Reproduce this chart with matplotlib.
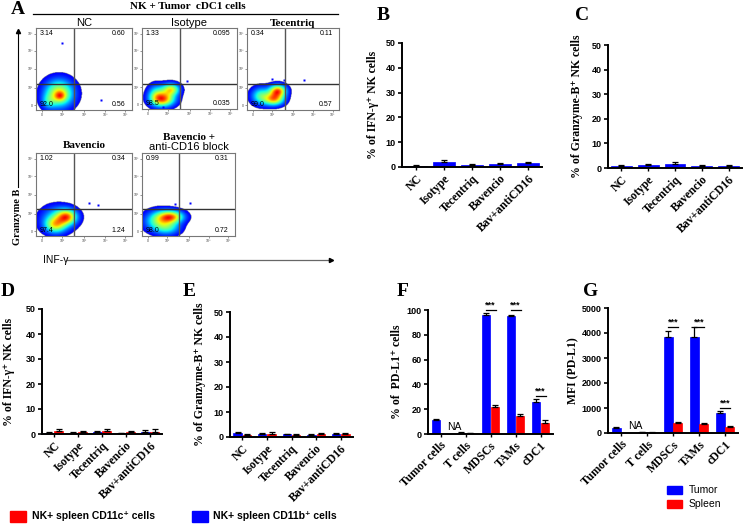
import matplotlib
matplotlib.use('Agg')
import matplotlib.pyplot as plt
import numpy as np
from matplotlib.patches import Rectangle
from matplotlib.lines import Line2D

W, H = 745, 526
SERIF = ['Liberation Serif', 'DejaVu Serif']
SANS = ['Liberation Sans', 'DejaVu Sans']
BLUE = '#0000ff'
RED = '#ff0000'

# ---- panel A: flow plots ----
flow_titles = ['NC', 'Isotype', 'Tecentriq', 'Bavencio', 'Bavencio +\nanti-CD16 block']
flow_quadrants = [  # upper-left, upper-right, lower-left, lower-right
    ['3.14', '0.60', '92.0', '0.56'],
    ['1.33', '0.095', '98.5', '0.035'],
    ['0.34', '0.11', '99.0', '0.57'],
    ['1.02', '0.34', '97.4', '1.24'],
    ['0.99', '0.31', '98.0', '0.72'],
]
flow_gates = [(0.40, 0.32), (0.40, 0.31), (0.41, 0.32), (0.40, 0.33), (0.40, 0.33)]
# density blobs: (x, y, sx, sy, weight) in axes fractions
flow_blobs = [
    [(0.24, 0.20, 0.10, 0.11, 1.0), (0.25, 0.17, 0.04, 0.04, 0.5), (0.13, 0.10, 0.05, 0.06, 0.3)],
    [(0.22, 0.12, 0.08, 0.06, 1.0), (0.30, 0.24, 0.06, 0.05, 0.8), (0.15, 0.18, 0.06, 0.08, 0.45)],
    [(0.33, 0.23, 0.06, 0.05, 1.0), (0.29, 0.13, 0.07, 0.05, 0.85), (0.15, 0.17, 0.07, 0.07, 0.5)],
    [(0.32, 0.23, 0.07, 0.06, 1.0), (0.20, 0.13, 0.07, 0.06, 0.65), (0.22, 0.20, 0.11, 0.10, 0.5)],
    [(0.31, 0.23, 0.09, 0.05, 1.0), (0.18, 0.18, 0.10, 0.08, 0.6), (0.28, 0.10, 0.09, 0.06, 0.4)],
]
flow_dots = [
    [(0.27, 0.82), (0.68, 0.12)],
    [(0.47, 0.34), (0.22, 0.02)],
    [(0.62, 0.36), (0.27, 0.38), (0.40, 0.36)],
    [(0.55, 0.40), (0.65, 0.37)],
    [(0.52, 0.40), (0.47, 0.30), (0.36, 0.38)],
]
flow_boxes = [(36, 28, 132, 110), (142, 28, 237, 109), (247, 28, 339, 110),
              (36, 153, 132, 236), (142, 153, 235, 236)]
flow_tick_pos = [0.06, 0.27, 0.50, 0.72, 0.93]
flow_tick_lab = ['0', '10²', '10³', '10⁴', '10⁵']

# ---- B, C: NK + tumor cDC1 ----
treatments = ['NC', 'Isotype', 'Tecentriq', 'Bavencio', 'Bav+antiCD16']
ifng_tumor = [0.6, 2.0, 0.8, 1.2, 1.5]
ifng_tumor_err = [0.3, 0.8, 0.3, 0.6, 0.7]
gzmb_tumor = [0.8, 1.1, 1.7, 1.0, 0.7]
gzmb_tumor_err = [0.3, 0.7, 0.6, 0.4, 0.4]

# ---- D, E: NK + spleen cells ----
ifng_cd11b = [0.5, 0.5, 0.8, 0.4, 0.7]
ifng_cd11b_err = [0.2, 0.2, 0.3, 0.2, 0.9]
ifng_cd11c = [1.3, 0.8, 1.2, 0.8, 1.0]
ifng_cd11c_err = [0.6, 0.5, 1.0, 0.4, 0.9]
gzmb_cd11b = [1.5, 1.2, 1.1, 0.9, 1.2]
gzmb_cd11b_err = [0.5, 0.5, 0.3, 0.2, 0.3]
gzmb_cd11c = [1.0, 1.3, 1.0, 1.3, 1.3]
gzmb_cd11c_err = [0.3, 0.6, 0.3, 0.5, 0.4]

# ---- F, G: PD-L1 ----
cell_types = ['Tumor cells', 'T cells', 'MDSCs', 'TAMs', 'cDC1']
pdl1_pct_tumor = [11.0, 1.2, 96.0, 95.0, 25.5]
pdl1_pct_tumor_err = [1.5, 0.3, 1.2, 0.7, 3.0]
pdl1_pct_spleen = [np.nan, 0.5, 21.5, 14.5, 9.0]
pdl1_pct_spleen_err = [0, 0.3, 2.0, 2.0, 2.0]
pdl1_mfi_tumor = [200, 40, 3850, 3850, 800]
pdl1_mfi_tumor_err = [30, 10, 220, 380, 80]
pdl1_mfi_spleen = [np.nan, 20, 400, 380, 240]
pdl1_mfi_spleen_err = [0, 5, 30, 20, 40]
pct_sig = [(2, 100), (3, 100), (4, 30.5)]
mfi_sig = [(2, 4250), (3, 4250), (4, 1010)]

plt.rcParams['font.family'] = SANS
fig = plt.figure(figsize=(W / 100, H / 100), dpi=100)


def px_axes(x0, y0, x1, y1):
    return fig.add_axes([x0 / W, 1 - y1 / H, (x1 - x0) / W, (y1 - y0) / H])


def ftext(x, y, s, **kw):
    fig.text(x / W, 1 - y / H, s, **kw)


# flow plots
xx, yy = np.meshgrid(np.linspace(0, 1, 200), np.linspace(0, 1, 200))
for i in range(5):
    ax = px_axes(*flow_boxes[i])
    dens = np.zeros_like(xx)
    for cx, cy, sx, sy, w in flow_blobs[i]:
        dens += w * np.exp(-((xx - cx) ** 2 / (2 * sx ** 2) + (yy - cy) ** 2 / (2 * sy ** 2)))
    dens = dens / dens.max()
    ax.imshow(np.ma.masked_less(dens, 0.04), origin='lower', extent=[0, 1, 0, 1],
              cmap='jet', vmin=-0.1, vmax=1.12, interpolation='bilinear', aspect='auto')
    for dx, dy in flow_dots[i]:
        ax.plot(dx, dy, 's', ms=1.5, color=BLUE, mec='none')
    gx, gy = flow_gates[i]
    ax.axvline(gx, color='#555555', lw=1.0)
    ax.axhline(gy, color='#333333', lw=1.0)
    q = flow_quadrants[i]
    ax.text(0.04, 0.93, q[0], fontsize=5, va='center', ha='left')
    ax.text(0.93, 0.93, q[1], fontsize=5, va='center', ha='right')
    ax.text(0.04, 0.07, q[2], fontsize=5, va='center', ha='left')
    ax.text(0.93, 0.07, q[3], fontsize=5, va='center', ha='right')
    ax.set_xlim(0, 1)
    ax.set_ylim(0, 1)
    ax.set_xticks(flow_tick_pos)
    ax.set_yticks(flow_tick_pos)
    ax.set_xticklabels(flow_tick_lab, fontsize=2.5)
    ax.set_yticklabels(flow_tick_lab, fontsize=2.5)
    ax.tick_params(length=1.5, width=0.4, pad=0.5, colors='#444444')
    for sp in ax.spines.values():
        sp.set_color('#777777')
        sp.set_linewidth(0.8)

ftext(84, 23, 'NC', fontsize=8, ha='center', va='center')
ftext(189, 23, 'Isotype', fontsize=8, ha='center', va='center')
ftext(293, 23, 'Tecentriq', fontsize=8, ha='center', va='center', family=SERIF, weight='bold')
ftext(84, 146, 'Bavencio', fontsize=8, ha='center', va='center', family=SERIF, weight='bold')
ftext(189, 137, 'Bavencio +', fontsize=8, ha='center', va='center', family=SERIF, weight='bold')
ftext(189, 147, 'anti-CD16 block', fontsize=8, ha='center', va='center')

ftext(18, 9, 'A', fontsize=14, ha='center', va='center', family=SERIF, weight='bold')
ftext(188, 6.5, 'NK + Tumor  cDC1 cells', fontsize=8, ha='center', va='center', family=SERIF, weight='bold')
fig.add_artist(Line2D([33 / W, 338 / W], [1 - 13.5 / H, 1 - 13.5 / H], color='black', lw=0.9))
fig.add_artist(Line2D([18 / W, 18 / W], [1 - 187 / H, 1 - 32 / H], color='black', lw=0.8))
fig.add_artist(Line2D([18 / W], [1 - 31 / H], marker='^', ms=3, color='black'))
ftext(18, 217, 'Granzyme B', fontsize=7.5, rotation=90, ha='center', va='center',
      family=SERIF, weight='bold')
ftext(56, 260, 'INF-γ', fontsize=7.5, ha='center', va='center')
fig.add_artist(Line2D([67 / W, 330 / W], [1 - 260.5 / H, 1 - 260.5 / H], color='#666666', lw=0.9))
fig.add_artist(Line2D([331 / W], [1 - 260.5 / H], marker='>', ms=3, color='black'))


def bar_panel(rect, cats, series, errs, colors, width, offsets, ylim, yticks, xfs, ylabel, ylab_x):
    ax = px_axes(*rect)
    x = np.arange(len(cats))
    for vals, err, col, off in zip(series, errs, colors, offsets):
        vals = np.array(vals, dtype=float)
        ok = ~np.isnan(vals)
        ax.bar(x[ok] + off, vals[ok], width, color=col, edgecolor=col, lw=0.5, zorder=2)
        ax.errorbar(x[ok] + off, vals[ok], yerr=[np.zeros(ok.sum()), np.array(err)[ok]],
                    fmt='none', ecolor='black', elinewidth=0.9, capsize=2.2, capthick=0.9, zorder=3)
    ax.set_xlim(-0.5, len(cats) - 0.5)
    ax.set_ylim(*ylim)
    ax.set_yticks(yticks)
    ax.set_yticklabels([str(t) for t in yticks], fontsize=6.5, weight='bold')
    ax.set_xticks(x)
    ax.set_xticklabels(cats, rotation=45, ha='right', rotation_mode='anchor',
                       fontsize=xfs, family=SERIF, weight='bold')
    ax.tick_params(axis='y', length=3, width=1.2, pad=1.5)
    ax.tick_params(axis='x', length=2, width=1.0, pad=2)
    for s in ['top', 'right']:
        ax.spines[s].set_visible(False)
    for s in ['left', 'bottom']:
        ax.spines[s].set_linewidth(1.4)
    ycen = (rect[1] + rect[3]) / 2
    ftext(ylab_x, ycen, ylabel, rotation=90, ha='center', va='center',
          fontsize=8.5, family=SERIF, weight='bold')
    return ax


bar_panel((402, 43, 542, 167), treatments, [ifng_tumor], [ifng_tumor_err], [BLUE], 0.78, [0],
          (0, 50), [0, 10, 20, 30, 40, 50], 8.5, '% of IFN-γ⁺ NK cells', 373)
bar_panel((608, 45, 742, 168), treatments, [gzmb_tumor], [gzmb_tumor_err], [BLUE], 0.78, [0],
          (0, 50), [0, 10, 20, 30, 40, 50], 8.5, '% of Granzyme-B⁺ NK cells', 577)
bar_panel((42, 309, 162, 434), treatments, [ifng_cd11b, ifng_cd11c], [ifng_cd11b_err, ifng_cd11c_err],
          [BLUE, RED], 0.34, [-0.19, 0.19], (0, 50), [0, 10, 20, 30, 40, 50], 8.5,
          '% of IFN-γ⁺ NK cells', 9)
bar_panel((230, 312, 353, 437), treatments, [gzmb_cd11b, gzmb_cd11c], [gzmb_cd11b_err, gzmb_cd11c_err],
          [BLUE, RED], 0.34, [-0.19, 0.19], (0, 50), [0, 10, 20, 30, 40, 50], 8.5,
          '% of Granzyme-B⁺ NK cells', 200)
axF = bar_panel((428, 310, 553, 434), cell_types, [pdl1_pct_tumor, pdl1_pct_spleen],
                [pdl1_pct_tumor_err, pdl1_pct_spleen_err], [BLUE, RED], 0.33, [-0.18, 0.18],
                (0, 100), [0, 20, 40, 60, 80, 100], 8.5, '% of  PD-L1⁺ cells', 397)
axG = bar_panel((608, 308, 738, 433), cell_types, [pdl1_mfi_tumor, pdl1_mfi_spleen],
                [pdl1_mfi_tumor_err, pdl1_mfi_spleen_err], [BLUE, RED], 0.33, [-0.18, 0.18],
                (0, 5000), [0, 1000, 2000, 3000, 4000, 5000], 8.5, 'MFI (PD-L1)', 573)

for ax, sig, top in [(axF, pct_sig, 100), (axG, mfi_sig, 5000)]:
    for xi, yv in sig:
        ax.plot([xi - 0.2, xi + 0.2], [yv, yv], color='black', lw=0.9, clip_on=False)
        ax.text(xi, yv + top * 0.005, '***', ha='center', va='bottom', fontsize=6.5,
                weight='bold', clip_on=False)
    ax.text(0.55, top * 0.015, 'NA', ha='center', va='bottom', fontsize=7.5)

for lab, (x, y) in zip('BCDEFG', [(383, 15), (582, 15), (8, 292), (189, 292), (403, 292), (591, 292)]):
    ftext(x, y, lab, fontsize=14, ha='center', va='center', family=SERIF, weight='bold')

# legend D/E
fig.add_artist(Rectangle((10 / W, 1 - 522 / H), 16 / W, 11 / H, color=RED, transform=fig.transFigure))
ftext(32, 516, 'NK+ spleen CD11c⁺ cells', fontsize=7.5, va='center', ha='left', weight='bold')
fig.add_artist(Rectangle((192 / W, 1 - 522 / H), 16 / W, 11 / H, color=BLUE, transform=fig.transFigure))
ftext(213, 516, 'NK+ spleen CD11b⁺ cells', fontsize=7.5, va='center', ha='left', weight='bold')

# legend F/G
fig.add_artist(Rectangle((667 / W, 1 - 494 / H), 15 / W, 8 / H, color=BLUE, transform=fig.transFigure))
ftext(689, 490, 'Tumor', fontsize=7.5, va='center', ha='left')
fig.add_artist(Rectangle((667 / W, 1 - 508 / H), 15 / W, 8 / H, color=RED, transform=fig.transFigure))
ftext(689, 504, 'Spleen', fontsize=7.5, va='center', ha='left')

fig.savefig('out.png', dpi=100)
